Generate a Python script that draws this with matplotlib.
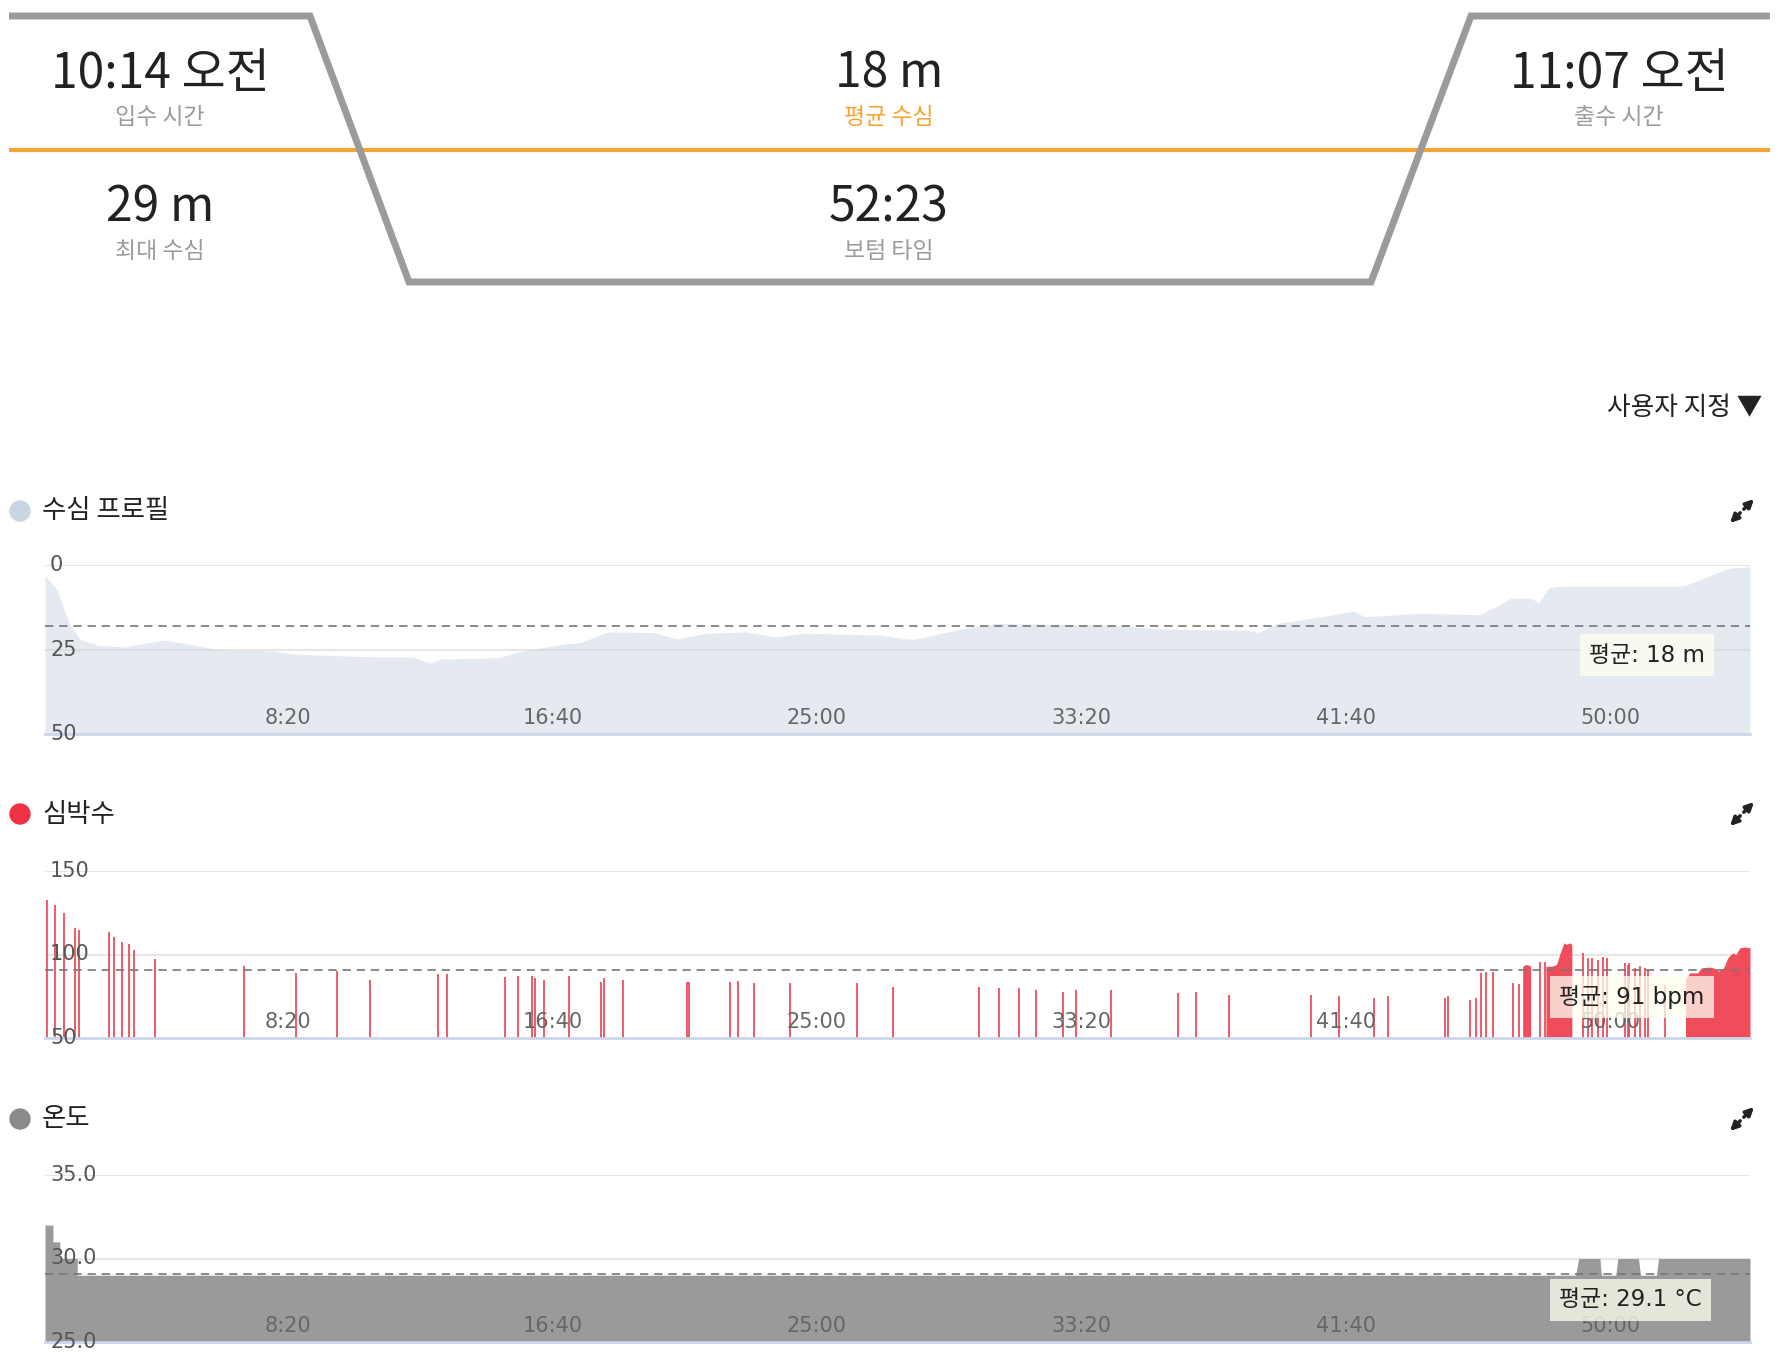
import matplotlib
matplotlib.use("Agg")
import matplotlib.pyplot as plt
from matplotlib.patches import Circle

plt.rcParams['font.family'] = ['DejaVu Sans', 'Noto Sans CJK KR']

# summary block
summary_values = ["10:14 오전", "18 m", "11:07 오전", "29 m", "52:23"]
summary_labels = ["입수 시간", "평균 수심", "출수 시간", "최대 수심", "보텀 타임"]

# time axis (seconds into the dive)
t_start, t_end = 40, 3265
tick_secs = [500, 1000, 1500, 2000, 2500, 3000]
tick_labels = ["8:20", "16:40", "25:00", "33:20", "41:40", "50:00"]

# depth profile (m)
depth_t = [40, 63, 85, 106, 140, 188, 265, 324, 367, 465, 518, 660, 736, 768, 791,
           899, 933, 1020, 1052, 1105, 1192, 1235, 1290, 1366, 1420, 1475, 1615,
           1657, 1683, 1793, 1837, 2054, 2162, 2313, 2336, 2368, 2455, 2515, 2536,
           2640, 2754, 2791, 2812, 2852, 2865, 2884, 2911, 3140, 3183, 3227, 3265]
depth_m = [3, 7.4, 17, 22, 23.7, 24.3, 22.2, 23.7, 25.1, 25.4, 26.4, 27.2, 27.2, 29, 27.8,
           27.4, 25.8, 23.4, 23, 19.8, 20, 21.9, 20.2, 19.8, 21.3, 20.2, 20.7,
           21.6, 22, 18.3, 17.3, 17.8, 19, 19.2, 20, 17.3, 15.3, 13.6, 15.3,
           14.3, 14.7, 11.8, 9.8, 9.8, 11.3, 6.8, 6.2, 6.2, 3.6, 0.9, 0.5]
depth_avg = 18

# heart rate: isolated samples
hr_spike_t = [44, 58, 75, 97, 104, 161, 170, 185, 198, 208, 248, 417, 515, 593, 654,
              783, 800, 910, 934, 962, 967, 984, 1031, 1091, 1098, 1133, 1254, 1258,
              1335, 1350, 1381, 1450, 1575, 1644, 1806, 1844, 1883, 1914, 1966, 1990,
              2056, 2183, 2217, 2280, 2434, 2487, 2553, 2581, 2688, 2693, 2735, 2746,
              2756, 2765, 2778, 2817, 2828, 2867, 2877, 2950, 2958, 2966, 2977, 2987,
              2994, 3028, 3034, 3037, 3047, 3056, 3066, 3073, 3105]
hr_spike_bpm = [132.6, 129.6, 124.8, 116, 114.7, 113.5, 110.5, 107.7, 106.3, 102.7, 97.3,
                93, 89, 90, 85, 88.6, 88.6, 86.3, 87, 87, 85.9, 84.8, 87, 83.5, 85.9, 85,
                83.5, 83.5, 83.5, 84, 82.7, 82.7, 82.7, 80.5, 80.5, 80, 80, 78.7, 77.5,
                78.7, 78.7, 76.9, 77.5, 75.7, 75.7, 75, 74, 75, 74, 75, 72.8, 74, 89,
                89.5, 89.5, 82.7, 82.4, 95.5, 95.5, 101, 98, 98, 97, 98.3, 98, 95, 94,
                95, 92, 93, 92, 91, 81.6]
# heart rate: continuous stretches
hr_block_t = [[2835, 2841, 2846, 2850],
              [2879, 2890, 2899, 2905, 2913, 2918, 2924, 2928],
              [3143, 3151, 3166, 3173, 3189, 3200, 3206, 3215, 3223, 3232, 3238, 3246,
               3255, 3265]]
hr_block_bpm = [[93, 94, 93.7, 93],
                [93, 93, 94, 100, 107, 106, 107, 106],
                [85, 89, 89, 92, 92.5, 91.5, 90, 92, 98, 101, 100, 104, 104.5, 104]]
hr_avg = 91

# temperature (C)
temp_t = [40, 55, 55, 68, 68, 101, 101, 2935, 2941, 2981, 2984, 3011, 3015, 3054,
          3058, 3088, 3092, 3265]
temp_c = [32, 32, 31, 31, 30, 30, 29, 29, 30, 30, 29, 29, 30, 30, 29, 29, 30, 30]
temp_avg = 29.1

W, H = 1778, 1360
fig = plt.figure(figsize=(W / 100, H / 100), dpi=100)
fig.patch.set_facecolor('white')

bg = fig.add_axes([0, 0, 1, 1])
bg.set_xlim(0, W)
bg.set_ylim(H, 0)
bg.axis('off')

kr = ['Noto Sans CJK KR', 'DejaVu Sans']
orange = '#f5a431'

# summary frame
bg.plot([9, 1770], [150, 150], color=orange, lw=3, solid_capstyle='butt')
bg.plot([9, 310, 409, 1371, 1471, 1770], [16, 16, 282, 282, 16, 16],
        color='#9b9b9b', lw=5, solid_joinstyle='miter', solid_capstyle='butt')

cols = [160, 889, 1619, 160, 889]
rows = [74, 74, 74, 208, 208]
for i in range(len(summary_values)):
    bg.text(cols[i], rows[i], summary_values[i], family=kr, fontsize=34.5,
            color='#222222', ha='center', va='center')
    bg.text(cols[i], rows[i] + 44, summary_labels[i], family=kr, fontsize=16.5,
            color=orange if i == 1 else '#9b9b9b', ha='center', va='center')

bg.text(1762, 408, "사용자 지정 ▼", family=kr, fontsize=18.5, color='#222222',
        ha='right', va='center')


def panel_title(y, title, dot):
    bg.add_patch(Circle((20, y), 10, color=dot))
    bg.text(42, y, title, family=kr, fontsize=19, color='#222222', ha='left', va='center')
    # expand icon
    for dx, dy in [(12, -12), (-12, 12)]:
        bg.annotate('', xy=(1742 + dx, y + dy), xytext=(1742 + dx * 0.15, y + dy * 0.15),
                    arrowprops=dict(arrowstyle='-|>', lw=2.5, color='#222222',
                                    mutation_scale=12, shrinkA=0, shrinkB=0))


def chart(top, bottom, lo, hi, ylabels, invert=False):
    ax = fig.add_axes([45 / W, 1 - bottom / H, 1705 / W, (bottom - top) / H])
    ax.set_facecolor('none')
    ax.set_xlim(t_start, t_end)
    if invert:
        ax.set_ylim(hi, lo)
    else:
        ax.set_ylim(lo, hi)
    for s in ['top', 'left', 'right']:
        ax.spines[s].set_visible(False)
    ax.spines['bottom'].set_color('#ccd6eb')
    ax.spines['bottom'].set_linewidth(2)
    ax.spines['bottom'].set_zorder(5)
    ax.set_xticks([])
    ax.set_yticks([])
    base = hi if invert else lo
    for v, lab in ylabels:
        if v != base:
            ax.axhline(v, color='#e6e6e6', lw=1.5, zorder=0)
        ax.text(0.003, v, lab, transform=ax.get_yaxis_transform(), fontsize=15,
                color='#555555', ha='left', va='center', zorder=6, clip_on=False)
    for t, lab in zip(tick_secs, tick_labels):
        ax.text(t, 16 / (bottom - top), lab, transform=ax.get_xaxis_transform(),
                fontsize=15, color='#666666', ha='center', va='center', zorder=6)
    return ax


def avg_box(ax, x, y, text):
    ax.text(x, y, text, transform=ax.transAxes, fontsize=16.5, color='#222222',
            ha='center', va='center', zorder=7,
            bbox=dict(boxstyle='square,pad=0.4', fc='#fffff0', ec='none', alpha=0.75))


avg_style = dict(color='#777777', lw=1.2, linestyle=(0, (5, 3.5)), zorder=4)

# depth
panel_title(511, "수심 프로필", '#c9d5e2')
ax1 = chart(565, 734, 0, 50, [(0, "0"), (25, "25"), (50, "50")], invert=True)
ax1.fill_between(depth_t, depth_m, 50, color='#ccd6e3', alpha=0.5, lw=0, zorder=2)
ax1.axhline(depth_avg, **avg_style)
avg_box(ax1, 0.9396, 0.467, "평균: %d m" % depth_avg)

# heart rate
panel_title(814, "심박수", '#ee3344')
ax2 = chart(871, 1038, 50, 150, [(150, "150"), (100, "100"), (50, "50")])
ax2.vlines(hr_spike_t, 50, hr_spike_bpm, color='#ef4d5c', lw=1.3, zorder=2)
for bt, bb in zip(hr_block_t, hr_block_bpm):
    ax2.fill_between(bt, 50, bb, color='#ef4d5c', lw=0, zorder=2)
ax2.axhline(hr_avg, **avg_style)
avg_box(ax2, 0.9308, 0.2455, "평균: %d bpm" % hr_avg)

# temperature
panel_title(1119, "온도", '#8a8a8a')
ax3 = chart(1175, 1342, 25, 35, [(35, "35.0"), (30, "30.0"), (25, "25.0")])
ax3.fill_between(temp_t, 25, temp_c, color='#9a9a9a', lw=0, zorder=2)
ax3.axhline(temp_avg, **avg_style)
avg_box(ax3, 0.930, 0.2515, "평균: %.1f °C" % temp_avg)

fig.savefig("out.png", dpi=100, facecolor='white')
